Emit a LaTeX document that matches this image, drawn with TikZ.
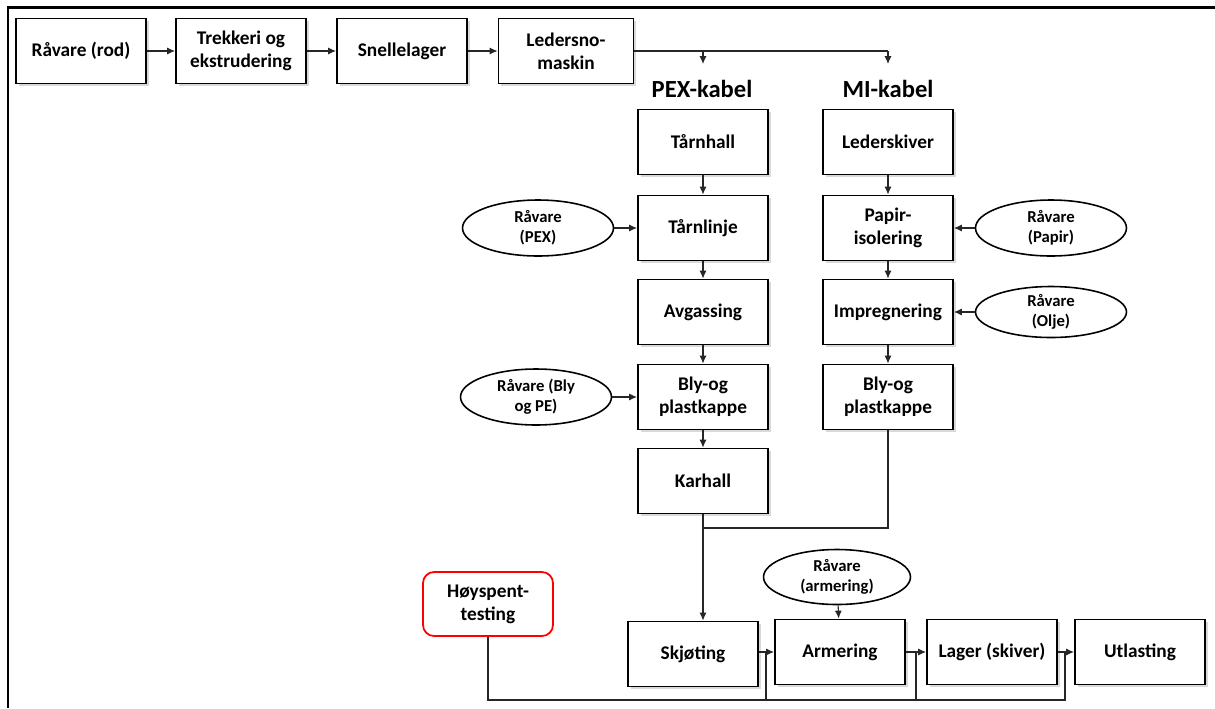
\documentclass[tikz,border=0pt]{standalone}
\usepackage{fontspec}
\setmainfont{Carlito}
\usetikzlibrary{shapes.geometric,shadows,arrows.meta}

\tikzset{
  stage/.style={draw,line width=1.1pt,fill=white,minimum width=2.6cm,minimum height=1.3cm,
    inner sep=1pt,align=center,font=\bfseries\fontsize{11}{13}\selectfont,
    drop shadow={shadow xshift=1.5pt,shadow yshift=-1.5pt,opacity=0.3}},
  source/.style={ellipse,draw,line width=0.9pt,fill=white,minimum width=3.02cm,minimum height=1.12cm,
    inner sep=0pt,align=center,font=\bfseries\fontsize{9.5}{11.5}\selectfont},
  testbox/.style={draw=red,line width=1pt,rounded corners=0.22cm,fill=white,minimum width=2.6cm,
    minimum height=1.28cm,inner sep=1pt,align=center,font=\bfseries\fontsize{11}{13}\selectfont},
  header/.style={font=\bfseries\fontsize{14}{16}\selectfont},
  flow/.style={-{Latex[length=4.5pt,width=4pt]},line width=0.6pt,black!85},
  feed/.style={line width=0.6pt,black!85}
}

\begin{document}
\begin{tikzpicture}[x=0.02cm,y=-0.02cm]
\useasboundingbox (0,0) rectangle (1215,708);
%frame
\draw[line width=1.7pt] (8,708) -- (8,7) -- (1215,7);
%top row
\node[stage] (rod) at (81,51) {Råvare (rod)};
\node[stage] (extr) at (241,51) {Trekkeri og\\ekstrudering};
\node[stage] (spool) at (402,51) {Snellelager};
\node[stage,minimum width=2.7cm] (strand) at (566,51) {Ledersno-\\maskin};
\draw[flow] (rod) -- (extr);
\draw[flow] (extr) -- (spool);
\draw[flow] (spool) -- (strand);
%split
\coordinate (pexin) at (703,64);
\coordinate (miin) at (888,64);
\draw[feed] (strand.east) -- (miin |- strand.east);
\draw[flow] (pexin |- strand.east) -- (pexin);
\draw[flow] (miin |- strand.east) -- (miin);
\node[header] (pex) at (702,89) {PEX-kabel};
\node[header] (mi) at (888,89) {MI-kabel};
%PEX line
\node[stage] (tower) at (703,142) {Tårnhall};
\node[stage] (tline) at (703,228) {Tårnlinje};
\node[stage] (degas) at (703,312) {Avgassing};
\node[stage] (sheathP) at (703,397) {Bly-og\\plastkappe};
\node[stage] (karhall) at (703,481) {Karhall};
\draw[flow] (tower) -- (tline);
\draw[flow] (tline) -- (degas);
\draw[flow] (degas) -- (sheathP);
\draw[flow] (sheathP) -- (karhall);
\node[source] (rawPEX) at (538,228) {Råvare\\(PEX)};
\node[source] (rawLead) at (536,397) {Råvare (Bly\\og PE)};
\draw[flow] (rawPEX) -- (tline);
\draw[flow] (rawLead) -- (sheathP);
%MI line
\node[stage] (cond) at (888,142) {Lederskiver};
\node[stage] (paper) at (888,228) {Papir-\\isolering};
\node[stage] (impreg) at (888,312) {Impregnering};
\node[stage] (sheathM) at (888,397) {Bly-og\\plastkappe};
\draw[flow] (cond) -- (paper);
\draw[flow] (paper) -- (impreg);
\draw[flow] (impreg) -- (sheathM);
\node[source] (rawPaper) at (1051,228) {Råvare\\(Papir)};
\node[source,minimum height=1.02cm] (rawOil) at (1051,312) {Råvare\\(Olje)};
\draw[flow] (rawPaper) -- (paper);
\draw[flow] (rawOil) -- (impreg);
%bottom row
\node[stage] (joint) at (693,654) {Skjøting};
\node[stage] (armour) at (840,652) {Armering};
\node[stage] (store) at (992,652) {Lager (skiver)};
\node[stage] (ship) at (1140,652) {Utlasting};
\node[source,minimum width=2.94cm,minimum height=1.1cm] (rawArm) at (837,577) {Råvare\\(armering)};
\node[testbox] (hv) at (488,604) {Høyspent-\\testing};
%merge
\coordinate (merge) at (703,528);
\draw[feed] (sheathM.south) |- (merge);
\draw[flow] (karhall.south) -- (karhall.south |- joint.north);
\draw[flow] (joint.east |- armour.west) -- (armour.west);
\draw[flow] (armour) -- (store);
\draw[flow] (store) -- (ship);
\draw[flow] (rawArm) -- (armour);
%test loop
\coordinate (bus) at (0,700);
\coordinate (g1) at (766,652);
\coordinate (g2) at (916,652);
\coordinate (g3) at (1065,652);
\draw[feed] (hv.south) |- (bus -| g3) -- (g3);
\draw[feed] (g1 |- bus) -- (g1);
\draw[feed] (g2 |- bus) -- (g2);
\end{tikzpicture}
\end{document}
